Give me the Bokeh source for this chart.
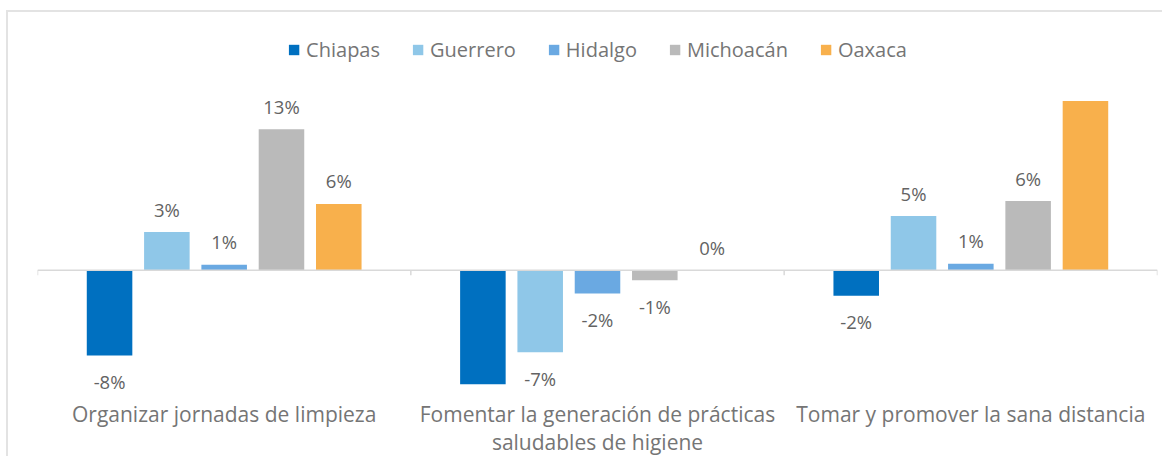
from bokeh.plotting import figure
from bokeh.models import (ColumnDataSource, Range1d, LinearAxis, FixedTicker, Legend, LegendItem, Span)
from bokeh.embed import file_html
from bokeh.resources import INLINE
from bokeh.core.properties import value

# ---- data ----
categories = ["Organizar jornadas de limpieza",
              "Fomentar la generación de prácticas\nsaludables de higiene",
              "Tomar y promover la sana distancia"]
series = ["Chiapas", "Guerrero", "Hidalgo", "Michoacán", "Oaxaca"]
colors = ["#0070C0", "#8FC7E8", "#6AA9E2", "#BABABA", "#F8B04C"]

chiapas   = [-7.7, -10.3, -2.3]
guerrero  = [3.45, -7.4, 4.9]
hidalgo   = [0.5, -2.1, 0.6]
michoacan = [12.75, -0.9, 6.25]
oaxaca    = [6.0, 0.0, 15.3]

chiapas_lbl   = ["-8%", "", "-2%"]
guerrero_lbl  = ["3%", "-7%", "5%"]
hidalgo_lbl   = ["1%", "-2%", "1%"]
michoacan_lbl = ["13%", "-1%", "6%"]
oaxaca_lbl    = ["6%", "0%", ""]

values = [chiapas, guerrero, hidalgo, michoacan, oaxaca]
labels = [chiapas_lbl, guerrero_lbl, hidalgo_lbl, michoacan_lbl, oaxaca_lbl]

FONT = "Open Sans"
W, H = 1156, 446

p = figure(width=W, height=H, output_backend="svg", toolbar_location=None,
           x_range=Range1d(0, len(categories)), y_range=Range1d(-11.31, 23.29),
           min_border_left=29, min_border_right=7, min_border_top=0, min_border_bottom=62,
           x_axis_location=None, y_axis_location=None)
p.outline_line_color = None
p.xgrid.visible = False
p.ygrid.visible = False
p.background_fill_color = "white"
p.border_fill_color = "white"
p.styles = {"position": "relative", "top": "10px", "left": "6px",
            "border-top": "2px solid #E3E3E3", "border-left": "2px solid #E3E3E3"}

# zero line and category boundary ticks
p.add_layout(Span(location=0, dimension="width", line_color="#D9D9D9", line_width=1.5))
bounds = list(range(len(categories) + 1))
p.segment(x0=bounds, y0=[0] * len(bounds), x1=bounds, y1=[-0.45] * len(bounds),
          line_color="#D9D9D9", line_width=1.5)

# category label axis
cat_ticks = [i + 0.5 for i in range(len(categories))]
cat_axis = LinearAxis(ticker=FixedTicker(ticks=cat_ticks),
                      major_label_overrides={t: c for t, c in zip(cat_ticks, categories)},
                      axis_line_color=None, major_tick_line_color=None,
                      minor_tick_line_color=None,
                      major_tick_out=0, major_tick_in=0,
                      major_label_text_font=FONT, major_label_text_font_size="21px",
                      major_label_text_color="#757575", major_label_standoff=4,
                      major_label_text_line_height=1.0)
p.add_layout(cat_axis, "below")

step = 0.1535
bw = 0.122
items = []
for j, (name, vals, lbls, col) in enumerate(zip(series, values, labels, colors)):
    xs = [i + 0.5 + (j - 2) * step for i in range(len(categories))]
    offs = [-23 if v >= 0 else 26 for v in vals]
    src = ColumnDataSource(dict(x=xs, top=vals, lbl=lbls, off=offs))
    r = p.vbar(x="x", top="top", bottom=0, width=bw, source=src,
               fill_color=col, line_color=None)
    p.text(x="x", y="top", text="lbl", y_offset="off", source=src,
           text_align="center", text_baseline="middle",
           text_font=value(FONT), text_font_size="18.5px", text_color="#636363")
    items.append(LegendItem(label=name, renderers=[r]))

legend = Legend(items=items, orientation="horizontal", location="top_center",
                border_line_color=None, background_fill_alpha=0,
                label_text_font=FONT, label_text_font_size="20px",
                label_text_color="#757575", glyph_width=13, glyph_height=13,
                label_standoff=6, spacing=31, padding=0, margin=24)
p.add_layout(legend, "center")

open("out.html", "w").write(file_html(p, INLINE))
